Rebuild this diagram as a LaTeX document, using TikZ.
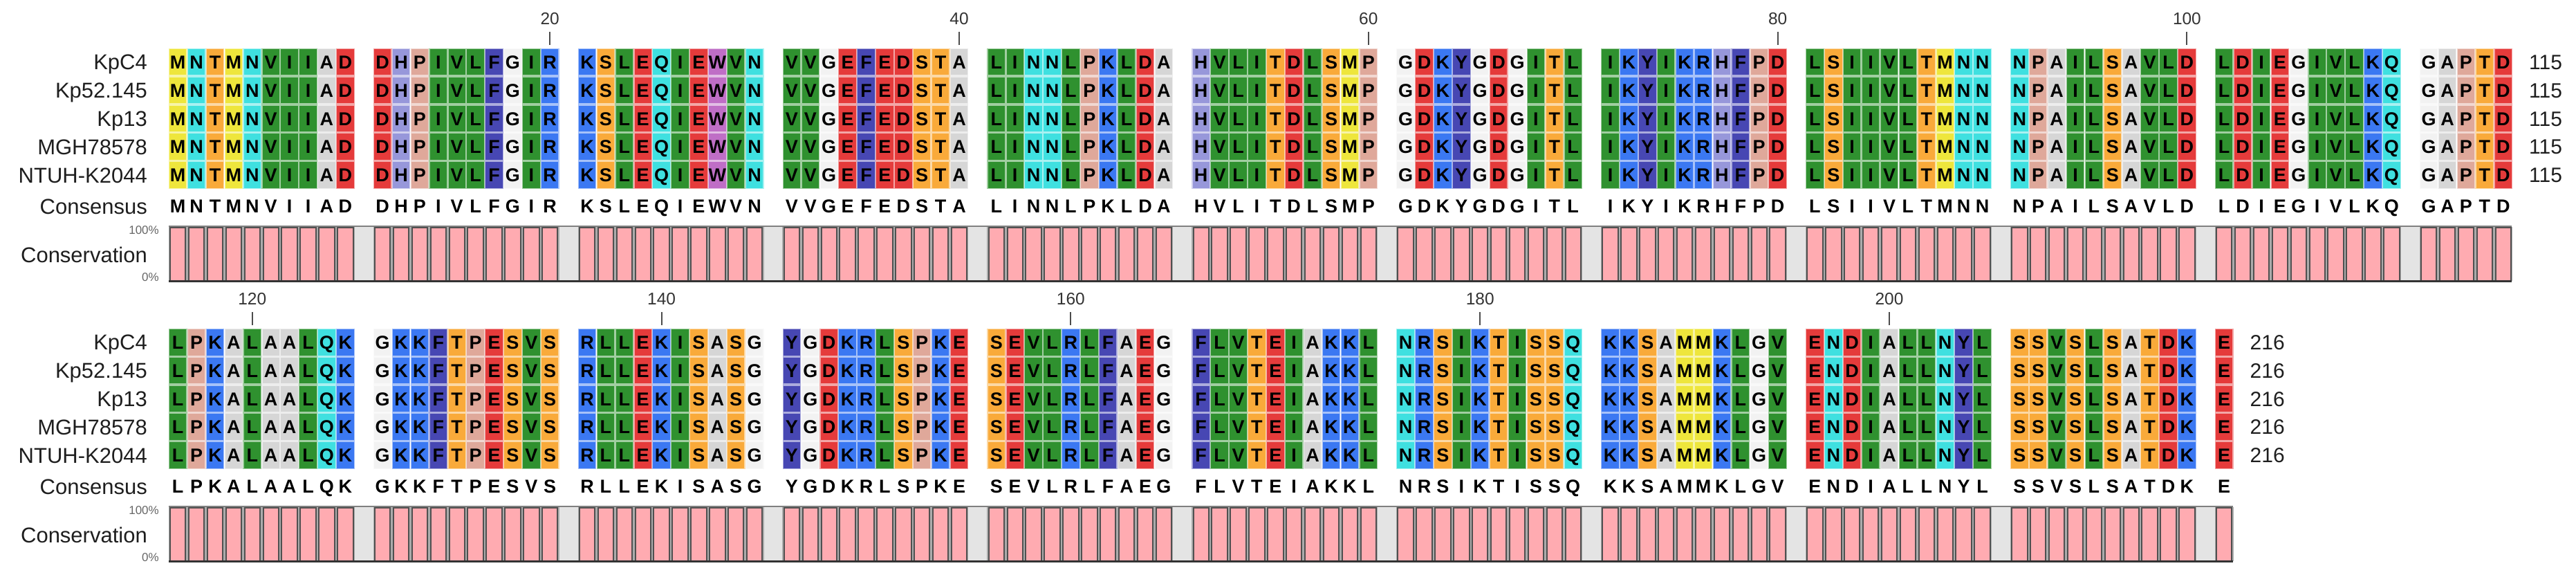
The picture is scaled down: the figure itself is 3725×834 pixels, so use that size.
\documentclass[tikz,border=0pt]{standalone}
\usepackage{fontspec}
\setmainfont{Liberation Sans}
\definecolor{cA}{HTML}{D6D6D6}
\definecolor{cC}{HTML}{EEE63C}
\definecolor{cD}{HTML}{E53B3B}
\definecolor{cE}{HTML}{E53B3B}
\definecolor{cF}{HTML}{4747B3}
\definecolor{cG}{HTML}{F2F2F2}
\definecolor{cH}{HTML}{9797DA}
\definecolor{cI}{HTML}{2F912F}
\definecolor{cK}{HTML}{3B78F2}
\definecolor{cL}{HTML}{2F912F}
\definecolor{cM}{HTML}{EEE63C}
\definecolor{cN}{HTML}{3FE0E0}
\definecolor{cP}{HTML}{DFA89A}
\definecolor{cQ}{HTML}{3FE0E0}
\definecolor{cR}{HTML}{3B78F2}
\definecolor{cS}{HTML}{F9AA3A}
\definecolor{cT}{HTML}{F9AA3A}
\definecolor{cV}{HTML}{2F912F}
\definecolor{cW}{HTML}{BF6EC6}
\definecolor{cY}{HTML}{4747B3}
\definecolor{barpink}{HTML}{FFABB1}
\definecolor{bardark}{HTML}{505050}
\definecolor{barbg}{HTML}{ABABAB}
\definecolor{gapgray}{HTML}{E4E4E4}
\definecolor{labelgray}{HTML}{1E1E1E}
\tikzset{
  res/.style={anchor=base, inner sep=0pt, text=black, font=\fontsize{27}{27}\selectfont\bfseries},
  seqlabel/.style={anchor=base east, inner sep=0pt, text=labelgray, font=\fontsize{31}{31}\selectfont},
  seqnum/.style={anchor=base west, inner sep=0pt, text=labelgray, font=\fontsize{30}{30}\selectfont},
  rulernum/.style={anchor=base, inner sep=0pt, text=black!80, font=\fontsize{24.5}{24.5}\selectfont},
  pctlabel/.style={anchor=east, inner sep=0pt, text=black!60, font=\fontsize{17}{17}\selectfont},
  ticklinestyle/.style={draw=black!70, line width=2pt},
}
% #1 block id, #2 yshift (px, down), #3 sequence, #4 number of columns, #5 end number, #6 ruler list
\newcommand\alnblock[6]{%
  \begin{scope}[yshift=-#2pt]
    % row labels
    \foreach \lab [count=\r from 0] in {KpC4,Kp52.145,Kp13,MGH78578,NTUH-K2044} {
      \node[seqlabel] (lab#1r\r) at (213,{71+\r*40.8+18.75+11.1}) {\lab};
    }
    \node[seqlabel] (cons#1) at (213,309.1) {Consensus};
    \node[seqlabel] (consv#1) at (213,379) {Conservation};
    \node[pctlabel] (hi#1) at (230,333) {100\%};
    \node[pctlabel] (lo#1) at (230,401) {0\%};
    % conservation background (gap columns)
    \pgfmathsetmacro\xend{245+#4*26.9-2.5}
    \fill[gapgray] (244,327.5) rectangle (\xend+0.5,406);
    % residues
    \foreach \c [count=\i] in {#3} {
      \pgfmathtruncatemacro\g{(\i-1)/10}
      \pgfmathsetmacro\xl{245+(\i-1+\g)*26.9}
      \pgfmathsetmacro\xc{\xl+12.2}
      \fill[c\c!45!white] (\xl-1.2,69.6) rectangle (\xl+25.6,273.1);
      \foreach \r in {0,...,4} {
        \pgfmathsetmacro\yt{71+\r*40.8}
        \fill[c\c] (\xl,\yt) rectangle (\xl+24.4,\yt+37.5);
        \node[res] (b#1r\r c\i) at (\xc,\yt+28.45) {\c};
      }
      \node[res] (b#1k\i) at (\xc,307.7) {\c};
      \fill[barbg] (\xl-1.25,327.5) rectangle (\xl+25.65,406);
      \filldraw[fill=barpink, draw=bardark, line width=2pt] (\xl+1,328.5) rectangle (\xl+23.4,405.5);
    }
    \draw[black!50, line width=2.5pt] (244,327) -- (\xend+0.5,327);
    \draw[black!80, line width=3pt] (244,406.5) -- (\xend+0.5,406.5);
    % end numbers
    \foreach \r in {0,...,4} {
      \node[seqnum] (num#1r\r) at (\xend+25,{71+\r*40.8+18.75+10.7}) {#5};
    }
    % ruler
    \foreach \p/\t in {#6} {
      \pgfmathtruncatemacro\g{(\p-1)/10}
      \pgfmathsetmacro\xc{245+(\p-1+\g)*26.9+12.2}
      \node[rulernum] (rul#1p\p) at (\xc,35.8) {\t};
      \coordinate (tk#1a\p) at (\xc,46);
      \coordinate (tk#1b\p) at (\xc,65);
      \draw[ticklinestyle] (tk#1a\p) -- (tk#1b\p);
    }
  \end{scope}
}
\begin{document}
\begin{tikzpicture}[x=1pt,y=-1pt]
\useasboundingbox (0,0) rectangle (3725,834);
\fill[white] (0,0) rectangle (3725,834);
\alnblock{1}{0}{M,N,T,M,N,V,I,I,A,D,D,H,P,I,V,L,F,G,I,R,K,S,L,E,Q,I,E,W,V,N,V,V,G,E,F,E,D,S,T,A,L,I,N,N,L,P,K,L,D,A,H,V,L,I,T,D,L,S,M,P,G,D,K,Y,G,D,G,I,T,L,I,K,Y,I,K,R,H,F,P,D,L,S,I,I,V,L,T,M,N,N,N,P,A,I,L,S,A,V,L,D,L,D,I,E,G,I,V,L,K,Q,G,A,P,T,D}{126}{115}{20/20,40/40,60/60,80/80,100/100}
\alnblock{2}{405}{L,P,K,A,L,A,A,L,Q,K,G,K,K,F,T,P,E,S,V,S,R,L,L,E,K,I,S,A,S,G,Y,G,D,K,R,L,S,P,K,E,S,E,V,L,R,L,F,A,E,G,F,L,V,T,E,I,A,K,K,L,N,R,S,I,K,T,I,S,S,Q,K,K,S,A,M,M,K,L,G,V,E,N,D,I,A,L,L,N,Y,L,S,S,V,S,L,S,A,T,D,K,E}{111}{216}{5/120,25/140,45/160,65/180,85/200}
\end{tikzpicture}
\end{document}
